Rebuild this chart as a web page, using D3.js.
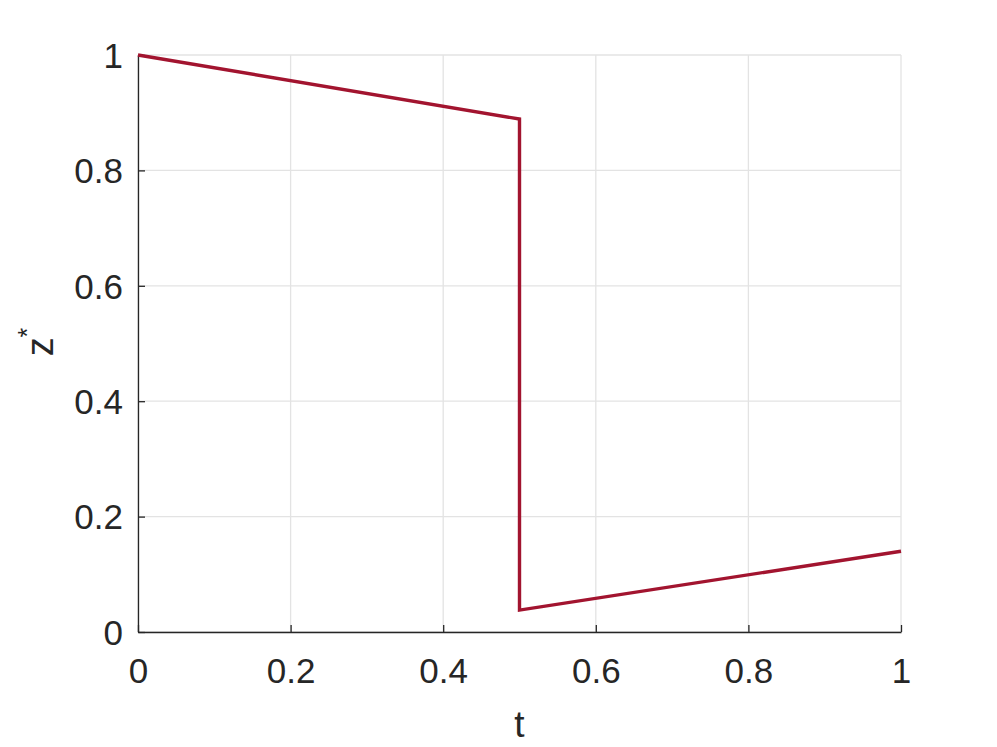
<!DOCTYPE html>
<html>
<head>
<meta charset="utf-8">
<style>
  body { margin: 0; background: #fff; }
  svg text { font-family: "Liberation Sans", Arial, sans-serif; fill: #262626; }
</style>
</head>
<body>
<svg width="997" height="747"></svg>
<script src="https://d3js.org/d3.v7.min.js"></script>
<script>

// z*(t): linear decay, jump at t = 0.5, then linear growth
var tValues = [0, 0.5, 0.5, 1],
    zValues = [1, 0.889, 0.038, 0.14],
    xTicks = [0, 0.2, 0.4, 0.6, 0.8, 1],
    yTicks = [0, 0.2, 0.4, 0.6, 0.8, 1];

var svg = d3.select("svg"),
    margin = {left: 138, right: 96, top: 55, bottom: 115},
    width = +svg.attr("width") - margin.left - margin.right,
    height = +svg.attr("height") - margin.top - margin.bottom;

var x = d3.scaleLinear().domain([0, 1]).range([0, width]),
    y = d3.scaleLinear().domain([0, 1]).range([height, 0]);

var g = svg.append("g").attr("transform", "translate(" + margin.left + "," + margin.top + ")");

// grid
g.append("g").selectAll("line").data(xTicks).enter().append("line")
    .attr("x1", function(d) { return x(d); }).attr("x2", function(d) { return x(d); })
    .attr("y1", 0).attr("y2", height)
    .attr("stroke", "#e3e3e3").attr("stroke-width", 1.3);
g.append("g").selectAll("line").data(yTicks).enter().append("line")
    .attr("y1", function(d) { return y(d); }).attr("y2", function(d) { return y(d); })
    .attr("x1", 0).attr("x2", width)
    .attr("stroke", "#e3e3e3").attr("stroke-width", 1.3);

// axes
var xAxis = g.append("g").attr("transform", "translate(0," + height + ")")
    .call(d3.axisBottom(x).tickValues(xTicks).tickSizeInner(-7).tickSizeOuter(0)
      .tickFormat(function(d) { return d3.format("")(d); }));
var yAxis = g.append("g")
    .call(d3.axisLeft(y).tickValues(yTicks).tickSizeInner(-7).tickSizeOuter(0)
      .tickFormat(function(d) { return d3.format("")(d); }));

[xAxis, yAxis].forEach(function(a) {
  a.select(".domain").attr("stroke", "#262626").attr("stroke-width", 1.3);
  a.selectAll(".tick line").attr("stroke", "#262626").attr("stroke-width", 1.3);
  a.selectAll("text").attr("font-size", 35).attr("font-family", null).attr("fill", "#262626");
});
xAxis.selectAll("text").attr("dy", null).attr("y", 51);
yAxis.selectAll("text").attr("dy", "0.35em").attr("x", -15);

// line
var line = d3.line()
    .x(function(d) { return x(d[0]); })
    .y(function(d) { return y(d[1]); });

g.append("path")
    .datum(d3.zip(tValues, zValues))
    .attr("fill", "none")
    .attr("stroke", "#A2142F")
    .attr("stroke-width", 3.4)
    .attr("stroke-linejoin", "miter")
    .attr("d", line);

// labels
svg.append("text")
    .attr("x", margin.left + width / 2).attr("y", 737)
    .attr("text-anchor", "middle").attr("font-size", 37)
    .text("t");

var yl = svg.append("text")
    .attr("transform", "translate(53,342) rotate(-90)")
    .attr("text-anchor", "middle").attr("font-size", 38);
yl.append("tspan").text("z");
yl.append("tspan").attr("font-size", 25).attr("dy", -17).text("*");

</script>
</body>
</html>
